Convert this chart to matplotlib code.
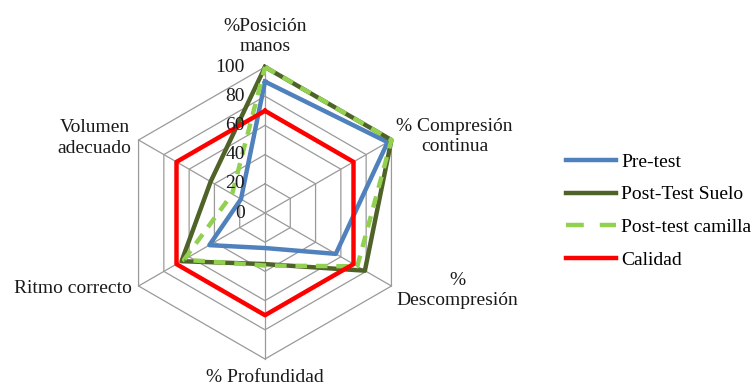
import numpy as np
import matplotlib.pyplot as plt
from matplotlib.lines import Line2D

plt.rcParams['font.family'] = ['Liberation Serif', 'DejaVu Serif']

# Ejes del radar, en sentido horario desde arriba
categorias = ["%Posición\nmanos", "% Compresión\ncontinua", "%\nDescompresión",
              "% Profundidad", "Ritmo correcto", "Volumen\nadecuado"]
pre_test = [90, 97, 56, 24, 44, 19]
post_suelo = [100, 100, 79, 35, 66, 43]
post_camilla = [100, 100, 73, 36, 64, 26]
calidad = [70, 70, 70, 70, 70, 70]
niveles = [0, 20, 40, 60, 80, 100]

fig = plt.figure(figsize=(7.53, 3.86), dpi=100)
ax = fig.add_axes([119 / 753, (386 - 213 - 146) / 386, 292 / 753, 292 / 386],
                  projection='polar')
ax.set_theta_offset(np.pi / 2)
ax.set_theta_direction(-1)
ax.set_ylim(0, 100)
ax.grid(False)
ax.set_xticks([])
ax.set_yticks([])
ax.spines['polar'].set_visible(False)

angulos = np.linspace(0, 2 * np.pi, len(categorias), endpoint=False)


def cerrar(v):
    return np.append(v, v[0])


# rejilla hexagonal y radios
for r in niveles[1:]:
    ax.plot(cerrar(angulos), [r] * (len(angulos) + 1), color='#9a9a9a', lw=0.9,
            zorder=1, clip_on=False)
for a in angulos:
    ax.plot([a, a], [0, 100], color='#9a9a9a', lw=0.9, zorder=1, clip_on=False)

# series
ax.plot(cerrar(angulos), cerrar(pre_test), color='#4F81BD', lw=3.2,
        zorder=3, clip_on=False)
ax.plot(cerrar(angulos), cerrar(post_suelo), color='#4F6228', lw=3.2,
        zorder=4, clip_on=False)
ax.plot(cerrar(angulos), cerrar(post_camilla), color='#92D050', lw=3.2,
        dashes=(2.6, 2.0), zorder=5, clip_on=False)
ax.plot(cerrar(angulos), cerrar(calidad), color='#FF0000', lw=3.2,
        zorder=6, clip_on=False)

# etiquetas de la escala sobre el eje vertical
for r in niveles:
    ax.annotate(str(r), xy=(0, r), xytext=(-14.5, 0), textcoords='offset points',
                ha='right', va='center', fontsize=14, color='#1a1a1a', zorder=10)

# nombres de las categorias
colocacion = [
    ((0, 22), 'center', 'center'),
    ((3.5, 2.5), 'left', 'center'),
    ((3.5, -3), 'left', 'center'),
    ((0, -13), 'center', 'center'),
    ((-4.5, -2), 'right', 'center'),
    ((-5, 1.5), 'right', 'center'),
]
for a, nombre, (off, ha, va) in zip(angulos, categorias, colocacion):
    ax.annotate(nombre, xy=(a, 100), xytext=off, textcoords='offset points',
                ha=ha, va=va, multialignment='center', fontsize=14,
                linespacing=1.25, color='#1a1a1a', annotation_clip=False)

# leyenda
manejadores = [
    Line2D([], [], color='#4F81BD', lw=3.2),
    Line2D([], [], color='#4F6228', lw=3.2),
    Line2D([], [], color='#92D050', lw=3.2, dashes=(4.0, 3.6)),
    Line2D([], [], color='#FF0000', lw=3.2),
]
nombres = ['Pre-test', 'Post-Test Suelo', 'Post-test camilla', 'Calidad']
fig.legend(manejadores, nombres, loc='upper left',
           bbox_to_anchor=(566 / 753, 1 - 153 / 386), frameon=False,
           fontsize=14, handlelength=2.55, handletextpad=0.3,
           labelspacing=0.78, borderpad=0, borderaxespad=0)

fig.savefig('out.png', dpi=100, facecolor='white')
